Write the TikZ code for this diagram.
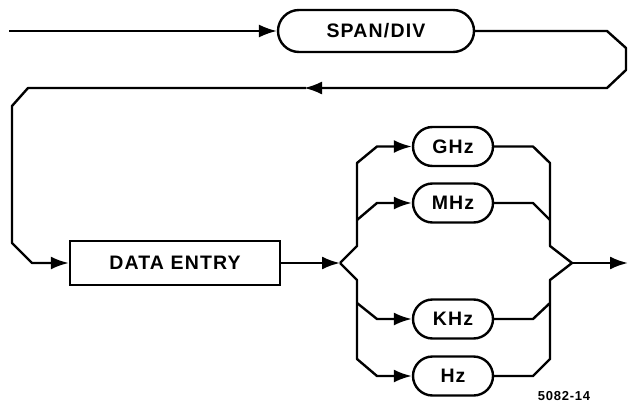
\documentclass[tikz,border=0pt]{standalone}
\usepackage{fontspec}
\setmainfont{Liberation Sans}[LetterSpace=6]
\usetikzlibrary{arrows.meta,shapes.misc}

\tikzset{
    flow/.style={line width=2.4pt, line join=round},
    tip/.style={flow, -{Latex[length=18pt,width=13pt]}},
    keybox/.style={draw, line width=2.4pt, rounded rectangle, inner sep=0pt,
        font=\bfseries\fontsize{19.5}{21}\selectfont},
    entrybox/.style={draw, line width=2.4pt, rectangle, inner sep=0pt,
        minimum width=210pt, minimum height=44pt,
        font=\bfseries\fontsize{19.5}{21}\selectfont}
}

\begin{document}
\begin{tikzpicture}[x=1pt,y=-1pt]
        \useasboundingbox (0,0) rectangle (628,404);
        \coordinate (in) at (9,31); \coordinate (out) at (628,263);
        \coordinate (split) at (340,263); \coordinate (merge) at (572,263);

        \node[keybox, minimum width=196pt, minimum height=42pt] (span) at (376,31) {SPAN/DIV};
        \node[entrybox] (entry) at (175,263) {DATA ENTRY};
        \foreach \name/\txt/\y in {ghz/GHz/146.5, mhz/MHz/203, khz/KHz/319, hz/Hz/376}
            \node[keybox, minimum width=80pt, minimum height=39pt] (\name) at (453,\y) {\txt};
        \node[font=\bfseries\fontsize{13}{14}\selectfont] (fig) at (564,396) {5082-14};

        % loop back from SPAN/DIV to the entry box
        \draw[tip, line width=1.8pt] (in) -- (span.west);
        \draw[tip] (span.east) -- (607,31) -- (626,48) -- (626,70) -- (607,88) -- (304,88);
        \draw[tip] (306,88) -- (28,88) -- (12,106) -- (12,243) -- (32,263) -- (entry.west);
        \draw[tip] (entry.east) -- (split);

        % fan out to the units
        \draw[tip] (split) -- (357,246) -- (357,163) -- (377,146.5) -- (ghz.west);
        \draw[tip] (357,220) -- (377,203) -- (mhz.west);
        \draw[tip] (split) -- (357,280) -- (357,359) -- (377,376) -- (hz.west);
        \draw[tip] (357,303) -- (377,319) -- (khz.west);

        % and back together
        \draw[flow] (ghz.east) -- (533,146.5) -- (550,163) -- (550,246) -- (merge);
        \draw[flow] (mhz.east) -- (533,203) -- (550,220);
        \draw[flow] (hz.east) -- (533,376) -- (550,359) -- (550,280) -- (merge);
        \draw[flow] (khz.east) -- (533,319) -- (550,303);
        \draw[tip] (merge) -- (out);
    \end{tikzpicture}
\end{document}
